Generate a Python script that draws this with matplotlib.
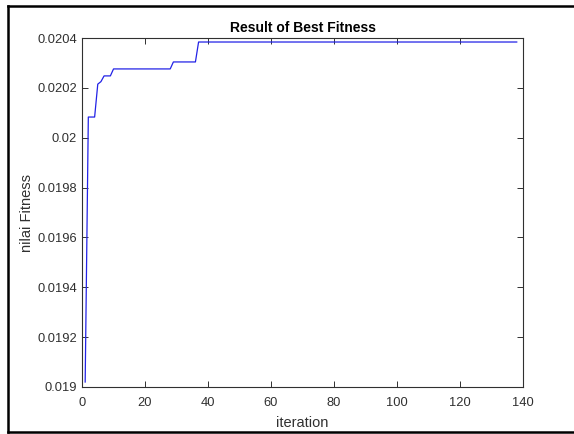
import numpy as np
import matplotlib
matplotlib.use('Agg')
import matplotlib.pyplot as plt
from matplotlib.lines import Line2D

# points where the best-fitness curve changes slope (MATLAB plot, linear between them)
iterations = [1, 2, 4, 5, 6, 7, 9, 10, 28, 29, 36, 37, 138]
best_fitness = [0.01902, 0.020083, 0.020083, 0.020215, 0.020225, 0.020248, 0.020248,
                0.020276, 0.020276, 0.020304, 0.020304, 0.020384, 0.020384]

x_ticks = [0, 20, 40, 60, 80, 100, 120, 140]
y_ticks = [0.019, 0.0192, 0.0194, 0.0196, 0.0198, 0.02, 0.0202, 0.0204]
y_labels = ['0.019', '0.0192', '0.0194', '0.0196', '0.0198', '0.02', '0.0202', '0.0204']

plt.rcParams['font.family'] = ['Liberation Sans', 'DejaVu Sans']

grey = '#303030'
fig = plt.figure(figsize=(5.74, 4.34), dpi=100)
ax = fig.add_axes([0.1429, 0.1083, 0.7683, 0.8041])

ax.plot(iterations, best_fitness, color='#2222e6', linewidth=0.9)

ax.set_xlim(0, 140)
ax.set_ylim(0.019, 0.0204)
ax.set_xticks(x_ticks)
ax.set_yticks(y_ticks)
ax.set_yticklabels(y_labels)
ax.tick_params(direction='in', top=True, right=True, length=4, width=0.7,
               colors=grey, labelsize=9.3, labelcolor=grey)
ax.tick_params(axis='x', pad=7.5)
ax.tick_params(axis='y', pad=3.5)
for s in ax.spines.values():
    s.set_color(grey)
    s.set_linewidth(0.8)

ax.set_title('Result of Best Fitness', fontsize=10, fontweight='bold', pad=4)
ax.set_xlabel('iteration', fontsize=10.5, color=grey, labelpad=5)
ax.set_ylabel('nilai Fitness', fontsize=10.5, color=grey, labelpad=2.5)

# black frame around the screenshot
x0 = 8 / 574
y_top = 1 - 6 / 434
y_bot = 2 / 434
for xs, ys in [([x0, 1.0], [y_top, y_top]), ([x0, x0], [y_bot, y_top]), ([x0, 1.0], [y_bot, y_bot])]:
    fig.add_artist(Line2D(xs, ys, transform=fig.transFigure, color='black', linewidth=1.8))

fig.savefig('out.png', dpi=100)
